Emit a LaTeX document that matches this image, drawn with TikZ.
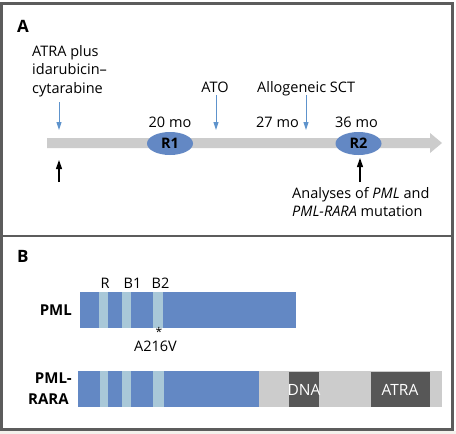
\documentclass[tikz,border=0pt]{standalone}
\usepackage{fontspec}
\setmainfont{Open Sans}
\usetikzlibrary{arrows.meta,shapes.geometric}
\definecolor{frm}{HTML}{5C5C5C}
\definecolor{pblue}{HTML}{6388C4}
\definecolor{lband}{HTML}{A9C8D8}
\definecolor{tgray}{HTML}{CCCCCC}
\definecolor{dgray}{HTML}{575757}
\definecolor{abl}{HTML}{5E93CC}
\definecolor{beige}{HTML}{F4F1EC}
\begin{document}
\begin{tikzpicture}[x=1pt,y=-1pt,
  txt/.style={inner sep=0pt, font=\fontsize{14.5}{17}\selectfont},
  bld/.style={inner sep=0pt, font=\fontsize{15}{17}\selectfont\bfseries},
  barr/.style={abl, line width=1pt, -{Triangle[width=5pt,length=8pt]}},
  karr/.style={black, line width=1.2pt, -{Triangle[width=6pt,length=9pt]}},
  oval/.style={ellipse, fill=pblue, minimum width=46pt, minimum height=23pt, inner sep=0pt, font=\fontsize{14.5}{16}\selectfont\bfseries},
  band/.style={fill=lband},
  dbox/.style={fill=dgray}
]
\useasboundingbox (0,0) rectangle (456,434);
\fill[white] (0,0) rectangle (456,434);
\fill[beige] (0,430.5) rectangle (456,434);
\draw[frm, line width=3pt] (1.5,3.5) rectangle (452.5,429);
\draw[frm, line width=2.5pt] (1.5,236) -- (452.5,236);
% panel A
\node[bld, anchor=base west, font=\fontsize{17}{19}\selectfont\bfseries] (lA) at (17,32) {A};
\fill[tgray] (47,138) -- (430,138) -- (430,133) -- (442,143) -- (430,153) -- (430,148) -- (47,148) -- cycle;
\node[oval] (r1) at (170,143.5) {R1};
\node[oval] (r2) at (358.5,143.5) {R2};
\node[txt, anchor=base west] (t1) at (32,56) {ATRA plus};
\node[txt, anchor=base west] (t2) at (32,74.5) {idarubicin–};
\node[txt, anchor=base west] (t3) at (32,93) {cytarabine};
\node[txt, anchor=base] (ato) at (215,92) {ATO};
\node[txt, anchor=base west] (sct) at (257,92) {Allogeneic SCT};
\node[txt, anchor=base] (m20) at (170,127) {20 mo};
\node[txt, anchor=base west] (m27) at (256,127) {27 mo};
\node[txt, anchor=base] (m36) at (356.5,127) {36 mo};
\node[txt, anchor=base west] (an1) at (292,198) {Analyses of \textit{PML} and};
\node[txt, anchor=base west] (an2) at (292,216) {\textit{PML-RARA} mutation};
\coordinate (a1s) at (59,102); \coordinate (a1e) at (59,130);
\coordinate (a2s) at (216,95); \coordinate (a2e) at (216,130);
\coordinate (a3s) at (306,95); \coordinate (a3e) at (306,130);
\coordinate (k1s) at (59,182); \coordinate (k1e) at (59,160);
\coordinate (k2s) at (360,182); \coordinate (k2e) at (360,158);
\draw[barr] (a1s) -- (a1e);
\draw[barr] (a2s) -- (a2e);
\draw[barr] (a3s) -- (a3e);
\draw[karr] (k1s) -- (k1e);
\draw[karr] (k2s) -- (k2e);
% panel B
\node[bld, anchor=base west, font=\fontsize{17}{19}\selectfont\bfseries] (lB) at (17,262) {B};
\fill[pblue] (80,292) rectangle (296,328);
\foreach \a/\b in {99/108,122/131,153/163} \fill[band] (\a,292) rectangle (\b,328);
\fill[pblue] (78,371) rectangle (259,407);
\foreach \a/\b in {100/108,122/131,153/164} \fill[band] (\a,371) rectangle (\b,407);
\fill[tgray] (259,371) rectangle (442,407);
\fill[dbox] (289,372) rectangle (319,407);
\fill[dbox] (371,372) rectangle (430,407);
\node[txt, anchor=base, white, font=\fontsize{15.5}{17}\selectfont] (dna) at (304,395) {DNA};
\node[txt, anchor=base, white, font=\fontsize{15.5}{17}\selectfont] (atra) at (400,395) {ATRA};
\node[txt, anchor=base] (lr) at (105,288) {R};
\node[txt, anchor=base] (lb1) at (132.5,288) {B1};
\node[txt, anchor=base] (lb2) at (160.5,288) {B2};
\node[txt, anchor=base, font=\fontsize{12}{14}\selectfont] (star) at (159,336.5) {*};
\node[txt, anchor=base] (mut) at (155.5,351) {A216V};
\node[bld, anchor=base east] (pml) at (72,315) {PML};
\node[bld, anchor=base east] (pr1) at (72,383) {PML-};
\node[bld, anchor=base west] (pr2) at (28,404) {RARA};
\end{tikzpicture}
\end{document}
